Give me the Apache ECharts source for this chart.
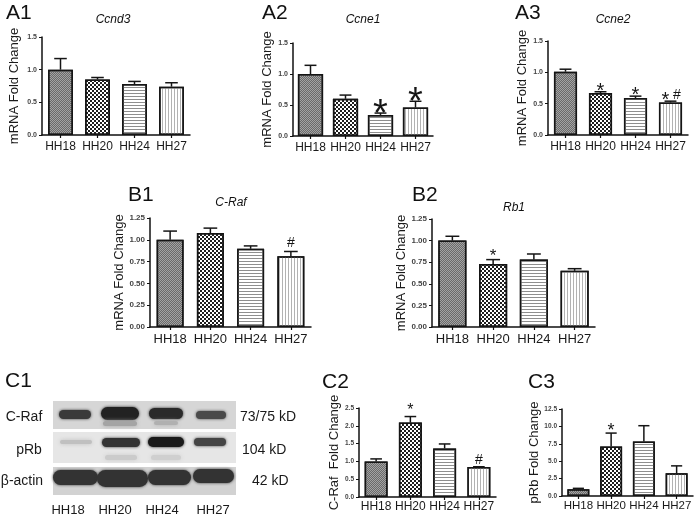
<!DOCTYPE html>
<html><head><meta charset="utf-8">
<script src="https://cdn.jsdelivr.net/npm/echarts@6/dist/echarts.min.js"></script>
<style>html,body{margin:0;padding:0;background:#fff}#c{width:699px;height:517px}</style>
</head><body><div id="c"></div>
<script>
// ---------------- data ----------------
const categories = ['HH18', 'HH20', 'HH24', 'HH27'];

const a1Values = [1.00, 0.85, 0.78, 0.74];
const a1Errors = [0.17, 0.03, 0.04, 0.06];
const a1Marks  = ['', '', '', ''];

const a2Values = [1.00, 0.60, 0.34, 0.46];
const a2Errors = [0.14, 0.06, 0.03, 0.10];
const a2Marks  = ['', '', '*', '*'];

const a3Values = [1.01, 0.67, 0.59, 0.52];
const a3Errors = [0.04, 0.02, 0.03, 0.02];
const a3Marks  = ['', '*', '*', '*#'];

const b1Values = [1.00, 1.077, 0.897, 0.81];
const b1Errors = [0.10, 0.057, 0.033, 0.056];
const b1Marks  = ['', '', '', '#'];

const b2Values = [1.00, 0.73, 0.78, 0.65];
const b2Errors = [0.05, 0.05, 0.065, 0.025];
const b2Marks  = ['', '*', '', ''];

const c2Values = [1.00, 2.09, 1.365, 0.84];
const c2Errors = [0.07, 0.17, 0.125, 0.01];
const c2Marks  = ['', '*', '', '#'];

const c3Values = [0.96, 7.12, 7.84, 3.27];
const c3Errors = [0.14, 1.92, 2.26, 1.06];
const c3Marks  = ['', '*', '', ''];

const axisA  = [0, 1.5, 0.5];
const axisB  = [0, 1.25, 0.25];
const axisC2 = [0, 2.5, 0.5];
const axisC3 = [0, 12.5, 2.5];

const blotRows  = ['C-Raf', 'pRb', '\u03b2-actin'];
const blotSizes = ['73/75 kD', '104 kD', '42 kD'];

// ---------------- styles / layout ----------------
const FONT = 'Liberation Sans, Arial, sans-serif';
const barStyles = [
  {color: '#a3a3a3', decal: {symbol: 'rect', symbolSize: 1, color: '#6a6a6a', dashArrayX: [[1, 1], [0, 1, 1, 0]], dashArrayY: [1, 0]}},
  {color: '#ffffff', decal: {symbol: 'rect', symbolSize: 1, color: '#1e1e1e', dashArrayX: [[2, 2], [0, 2, 2, 0]], dashArrayY: [2, 0]}},
  {color: '#ffffff', decal: {symbol: 'rect', symbolSize: 1, color: '#8e8e8e', dashArrayX: [5, 0], dashArrayY: [1, 2]}},
  {color: '#ffffff', decal: {symbol: 'rect', symbolSize: 1, color: '#b2b2b2', dashArrayX: [1, 2], dashArrayY: [5, 0]}}
];

const panels = [
  {values: a1Values, errors: a1Errors, marks: a1Marks, axis: axisA, digits: 1, yName: 'mRNA Fold Change',
   grid: {left: 42, top: 37, width: 148, height: 98}, barWidth: '67%', nameGap: 21, catFont: 12, catMargin: 6, tickFont: 7,
   star: {size: 24, off: 5}, hash: {size: 13, off: 6}},
  {values: a2Values, errors: a2Errors, marks: a2Marks, axis: axisA, digits: 1, yName: 'mRNA Fold Change',
   grid: {left: 293, top: 43, width: 140, height: 93}, barWidth: '72%', nameGap: 19, catFont: 12, catMargin: 6, tickFont: 7,
   star: {size: 38, off: 6}, hash: {size: 13, off: 6}},
  {values: a3Values, errors: a3Errors, marks: a3Marks, axis: axisA, digits: 1, yName: 'mRNA Fold Change',
   grid: {left: 548, top: 41, width: 140, height: 94}, barWidth: '66%', nameGap: 18, catFont: 12, catMargin: 6, tickFont: 7,
   star: {size: 20, off: 5}, hash: {size: 14, off: 6}},
  {values: b1Values, errors: b1Errors, marks: b1Marks, axis: axisB, digits: 2, yName: 'mRNA Fold Change',
   grid: {left: 150, top: 218, width: 161, height: 109}, barWidth: '67%', nameGap: 15, catFont: 13, catMargin: 6, tickFont: 8,
   star: {size: 20, off: 5}, hash: {size: 14, off: 8}},
  {values: b2Values, errors: b2Errors, marks: b2Marks, axis: axisB, digits: 2, yName: 'mRNA Fold Change',
   grid: {left: 432, top: 219, width: 163, height: 108}, barWidth: '69%', nameGap: 20, catFont: 13, catMargin: 6, tickFont: 8,
   star: {size: 17, off: 7}, hash: {size: 14, off: 8}},
  {values: c2Values, errors: c2Errors, marks: c2Marks, axis: axisC2, digits: 1, yName: 'C-Raf  Fold Change',
   grid: {left: 359, top: 408, width: 137, height: 89}, barWidth: '67%', nameGap: 14, catFont: 12, catMargin: 4, tickFont: 6.5,
   star: {size: 16, off: 9}, hash: {size: 14, off: 7}},
  {values: c3Values, errors: c3Errors, marks: c3Marks, axis: axisC3, digits: 1, yName: 'pRb Fold Change',
   grid: {left: 562, top: 409, width: 131, height: 87}, barWidth: '67%', nameGap: 15, catFont: 11.5, catMargin: 4, tickFont: 6.5,
   star: {size: 18, off: 6.5}, hash: {size: 14, off: 7}}
];

const panelLabels = [
  ['A1', 6, 13], ['A2', 262, 13], ['A3', 515, 13],
  ['B1', 128, 195], ['B2', 412, 195],
  ['C1', 5, 381], ['C2', 322, 382], ['C3', 528, 382]
];
const geneTitles = [
  ['Ccnd3', 113, 20], ['Ccne1', 363, 20], ['Ccne2', 613, 20], ['C-Raf', 231, 203], ['Rb1', 514, 208]
];

// ---------------- build option ----------------
const grids = [], xAxes = [], yAxes = [], series = [];
panels.forEach((p, k) => {
  grids.push(Object.assign({containLabel: false}, p.grid));
  xAxes.push({
    type: 'category', gridIndex: k, data: categories,
    axisLine: {lineStyle: {color: '#111', width: 1.5}},
    axisTick: {show: true, alignWithLabel: true, length: 3, lineStyle: {color: '#111', width: 1.2}},
    axisLabel: {interval: 0, fontSize: p.catFont, color: '#1a1a1a', margin: p.catMargin, fontFamily: FONT}
  });
  yAxes.push({
    type: 'value', gridIndex: k, min: p.axis[0], max: p.axis[1], interval: p.axis[2],
    name: p.yName, nameLocation: 'middle', nameGap: p.nameGap, nameRotate: 90,
    nameTextStyle: {fontSize: 13, color: '#1a1a1a', fontFamily: FONT},
    axisLine: {show: true, lineStyle: {color: '#111', width: 1.5}},
    axisTick: {show: true, length: 3, lineStyle: {color: '#111', width: 1}},
    splitLine: {show: false},
    axisLabel: {fontSize: p.tickFont, fontWeight: 'bold', color: '#444', margin: 5, fontFamily: FONT,
                formatter: v => v.toFixed(p.digits)}
  });
  series.push({
    type: 'bar', xAxisIndex: k, yAxisIndex: k, barWidth: p.barWidth, silent: true,
    data: p.values.map((v, i) => ({
      value: v,
      itemStyle: Object.assign({borderColor: '#151515', borderWidth: 1.5}, barStyles[i])
    }))
  });
  series.push({
    type: 'custom', xAxisIndex: k, yAxisIndex: k, silent: true, z: 5,
    encode: {x: 0, y: [1, 2]},
    data: p.values.map((v, i) => [i, v, v + p.errors[i]]),
    renderItem: (params, api) => {
      const i = api.value(0);
      const base = api.coord([i, api.value(1)]);
      const top = api.coord([i, api.value(2)]);
      const cap = api.size([1, 0])[0] * 0.34;
      const st = {stroke: '#151515', lineWidth: 1.5};
      const ch = [
        {type: 'line', shape: {x1: base[0], y1: base[1], x2: top[0], y2: top[1]}, style: st},
        {type: 'line', shape: {x1: top[0] - cap / 2, y1: top[1], x2: top[0] + cap / 2, y2: top[1]}, style: st}
      ];
      const m = p.marks[params.dataIndex];
      const both = m.indexOf('*') >= 0 && m.indexOf('#') >= 0;
      if (m.indexOf('*') >= 0) {
        ch.push({type: 'text', style: {text: '*', x: top[0] + (both ? -5 : 0),
          y: top[1] - p.star.off + 0.22 * p.star.size,
          textAlign: 'center', textVerticalAlign: 'middle', fontSize: p.star.size, fontFamily: FONT, fill: '#151515'}});
      }
      if (m.indexOf('#') >= 0) {
        ch.push({type: 'text', style: {text: '#', x: top[0] + (both ? 6.5 : 0),
          y: top[1] - p.hash.off,
          textAlign: 'center', textVerticalAlign: 'middle', fontSize: p.hash.size, fontFamily: FONT, fill: '#151515'}});
      }
      return {type: 'group', children: ch};
    }
  });
});

// ---------------- graphic: labels and blot ----------------
const graphic = [];
panelLabels.forEach(([t, x, y]) => graphic.push({type: 'text', x, y,
  style: {text: t, fontSize: 21, fontFamily: FONT, fill: '#111', textAlign: 'left', textVerticalAlign: 'middle'}}));
geneTitles.forEach(([t, x, y]) => graphic.push({type: 'text', x, y,
  style: {text: t, fontSize: 12, fontStyle: 'italic', fontFamily: FONT, fill: '#111', textAlign: 'center', textVerticalAlign: 'middle'}}));

// blot backgrounds
const blotBg = [[401, 28, '#d6d6d6'], [432, 31, '#e6e6e6'], [467, 28, '#d2d2d2']];
blotBg.forEach(([y, h, c]) => graphic.push({type: 'rect', shape: {x: 53, y, width: 183, height: h}, style: {fill: c}}));
// bands [x, y, w, h, color, blur]
const bands = [
  [59, 410, 32, 9, '#3a3a3a', 3], [101, 407, 38, 13, '#222222', 3], [103, 421, 34, 5, '#a4a4a4', 4],
  [149, 408, 34, 11, '#2a2a2a', 3], [154, 421, 24, 4, '#b0b0b0', 4], [196, 411, 30, 8, '#4a4a4a', 3],
  [60, 440, 32, 4, '#c0c0c0', 4], [102, 438, 38, 9, '#333333', 3], [148, 437, 36, 10, '#1a1a1a', 3],
  [194, 438, 32, 8, '#454545', 3], [105, 455, 32, 5, '#cbcbcb', 4], [151, 455, 30, 5, '#cfcfcf', 4]
];
bands.forEach(([x, y, w, h, c, b]) => graphic.push({type: 'rect', shape: {x, y, width: w, height: h, r: h / 2},
  style: {fill: c, shadowBlur: b, shadowColor: c}}));
const actin = [[53, 470, 45, 15], [97, 470, 51, 17], [148, 470, 43, 15], [193, 469, 41, 14]];
actin.forEach(([x, y, w, h]) => graphic.push({type: 'rect', shape: {x, y, width: w, height: h, r: h / 2},
  style: {fill: '#333333', shadowBlur: 3, shadowColor: '#333333'}}));
// blot texts
const rowLabelPos = [[24, 417], [29, 450], [22, 481]];
blotRows.forEach((t, i) => graphic.push({type: 'text', x: rowLabelPos[i][0], y: rowLabelPos[i][1],
  style: {text: t, fontSize: 14, fontFamily: FONT, fill: '#1a1a1a', textAlign: 'center', textVerticalAlign: 'middle'}}));
const sizePos = [[240, 417], [242, 450], [252, 481]];
blotSizes.forEach((t, i) => graphic.push({type: 'text', x: sizePos[i][0], y: sizePos[i][1],
  style: {text: t, fontSize: 14, fontFamily: FONT, fill: '#1a1a1a', textAlign: 'left', textVerticalAlign: 'middle'}}));
const laneX = [68, 115, 162, 213];
categories.forEach((t, i) => graphic.push({type: 'text', x: laneX[i], y: 510,
  style: {text: t, fontSize: 13, fontFamily: FONT, fill: '#1a1a1a', textAlign: 'center', textVerticalAlign: 'middle'}}));

const chart = echarts.init(document.getElementById('c'), null, {renderer: 'canvas'});
chart.setOption({
  animation: false,
  backgroundColor: '#ffffff',
  textStyle: {fontFamily: FONT},
  grid: grids, xAxis: xAxes, yAxis: yAxes, series,
  graphic: {elements: graphic}
});
</script></body></html>
